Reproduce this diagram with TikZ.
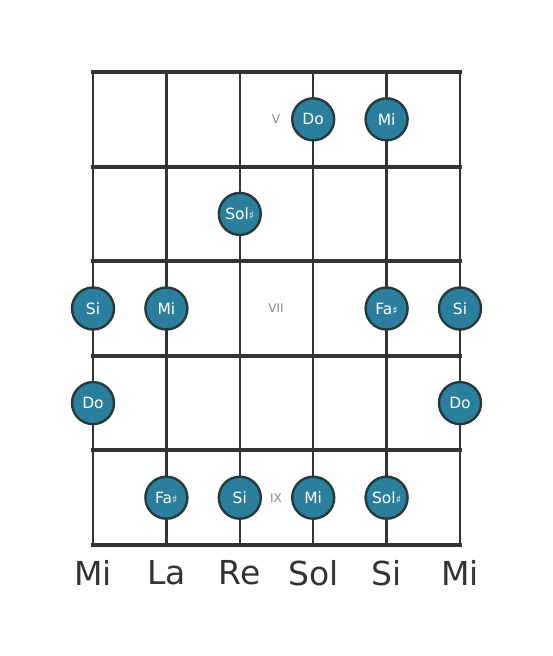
\documentclass[tikz,border=0pt]{standalone}
\usepackage{fontspec}
\setmainfont{DejaVu Sans}
\definecolor{wire}{HTML}{333333}
\definecolor{dotfill}{HTML}{2B7F9C}
\definecolor{dotline}{HTML}{263A3E}
\definecolor{fretno}{HTML}{8A8A8A}
\newcommand{\shp}{{\fontsize{11}{11}\selectfont ♯}}

\begin{document}
\begin{tikzpicture}[x=1pt,y=-1pt,
  note/.style={circle,draw=dotline,fill=dotfill,line width=2.4pt,minimum size=42pt,inner sep=0pt,text=white,font=\fontsize{15.5}{15.5}\selectfont},
  fretnum/.style={text=fretno,font=\fontsize{12}{12}\selectfont},
  tuning/.style={text=wire,font=\fontsize{33}{33}\selectfont}]
  \useasboundingbox (0,0) rectangle (553,656);
  % strings
  \foreach \s/\x in {1/93,2/166.4,3/239.8,4/313.2,5/386.6,6/460} {
    \coordinate (s\s top) at (\x,72);
    \coordinate (s\s bot) at (\x,545);
    \draw[wire,line width=2.5pt] (s\s top) -- (s\s bot);
  }
  % frets
  \foreach \f/\y in {0/72,1/166.6,2/261.2,3/355.8,4/450.4,5/545} {
    \coordinate (f\f l) at (93,\y);
    \coordinate (f\f r) at (460,\y);
    \draw[wire,line width=4pt,line cap=rect] (f\f l) -- (f\f r);
  }
  %
  \node[fretnum] (v) at (276,119.3) {V};
  \node[fretnum] (vii) at (276,308.5) {VII};
  \node[fretnum] (ix) at (276,497.7) {IX};
  %
  \node[note] (do4) at (313.2,119.3) {Do};
  \node[note] (mi5) at (386.6,119.3) {Mi};
  \node[note] (sol3) at (239.8,213.9) {Sol\shp};
  \node[note] (si1) at (93,308.5) {Si};
  \node[note] (mi2) at (166.4,308.5) {Mi};
  \node[note] (fa5) at (386.6,308.5) {Fa\shp};
  \node[note] (si6) at (460,308.5) {Si};
  \node[note] (do1) at (93,403.1) {Do};
  \node[note] (do6) at (460,403.1) {Do};
  \node[note] (fa2) at (166.4,497.7) {Fa\shp};
  \node[note] (si3) at (239.8,497.7) {Si};
  \node[note] (mi4) at (313.2,497.7) {Mi};
  \node[note] (sol5) at (386.6,497.7) {Sol\shp};
  %
  \node[tuning] (t1) at (93,573) {Mi};
  \node[tuning] (t2) at (166.4,573) {La};
  \node[tuning] (t3) at (239.8,573) {Re};
  \node[tuning] (t4) at (313.2,573) {Sol};
  \node[tuning] (t5) at (386.6,573) {Si};
  \node[tuning] (t6) at (460,573) {Mi};
\end{tikzpicture}
\end{document}
